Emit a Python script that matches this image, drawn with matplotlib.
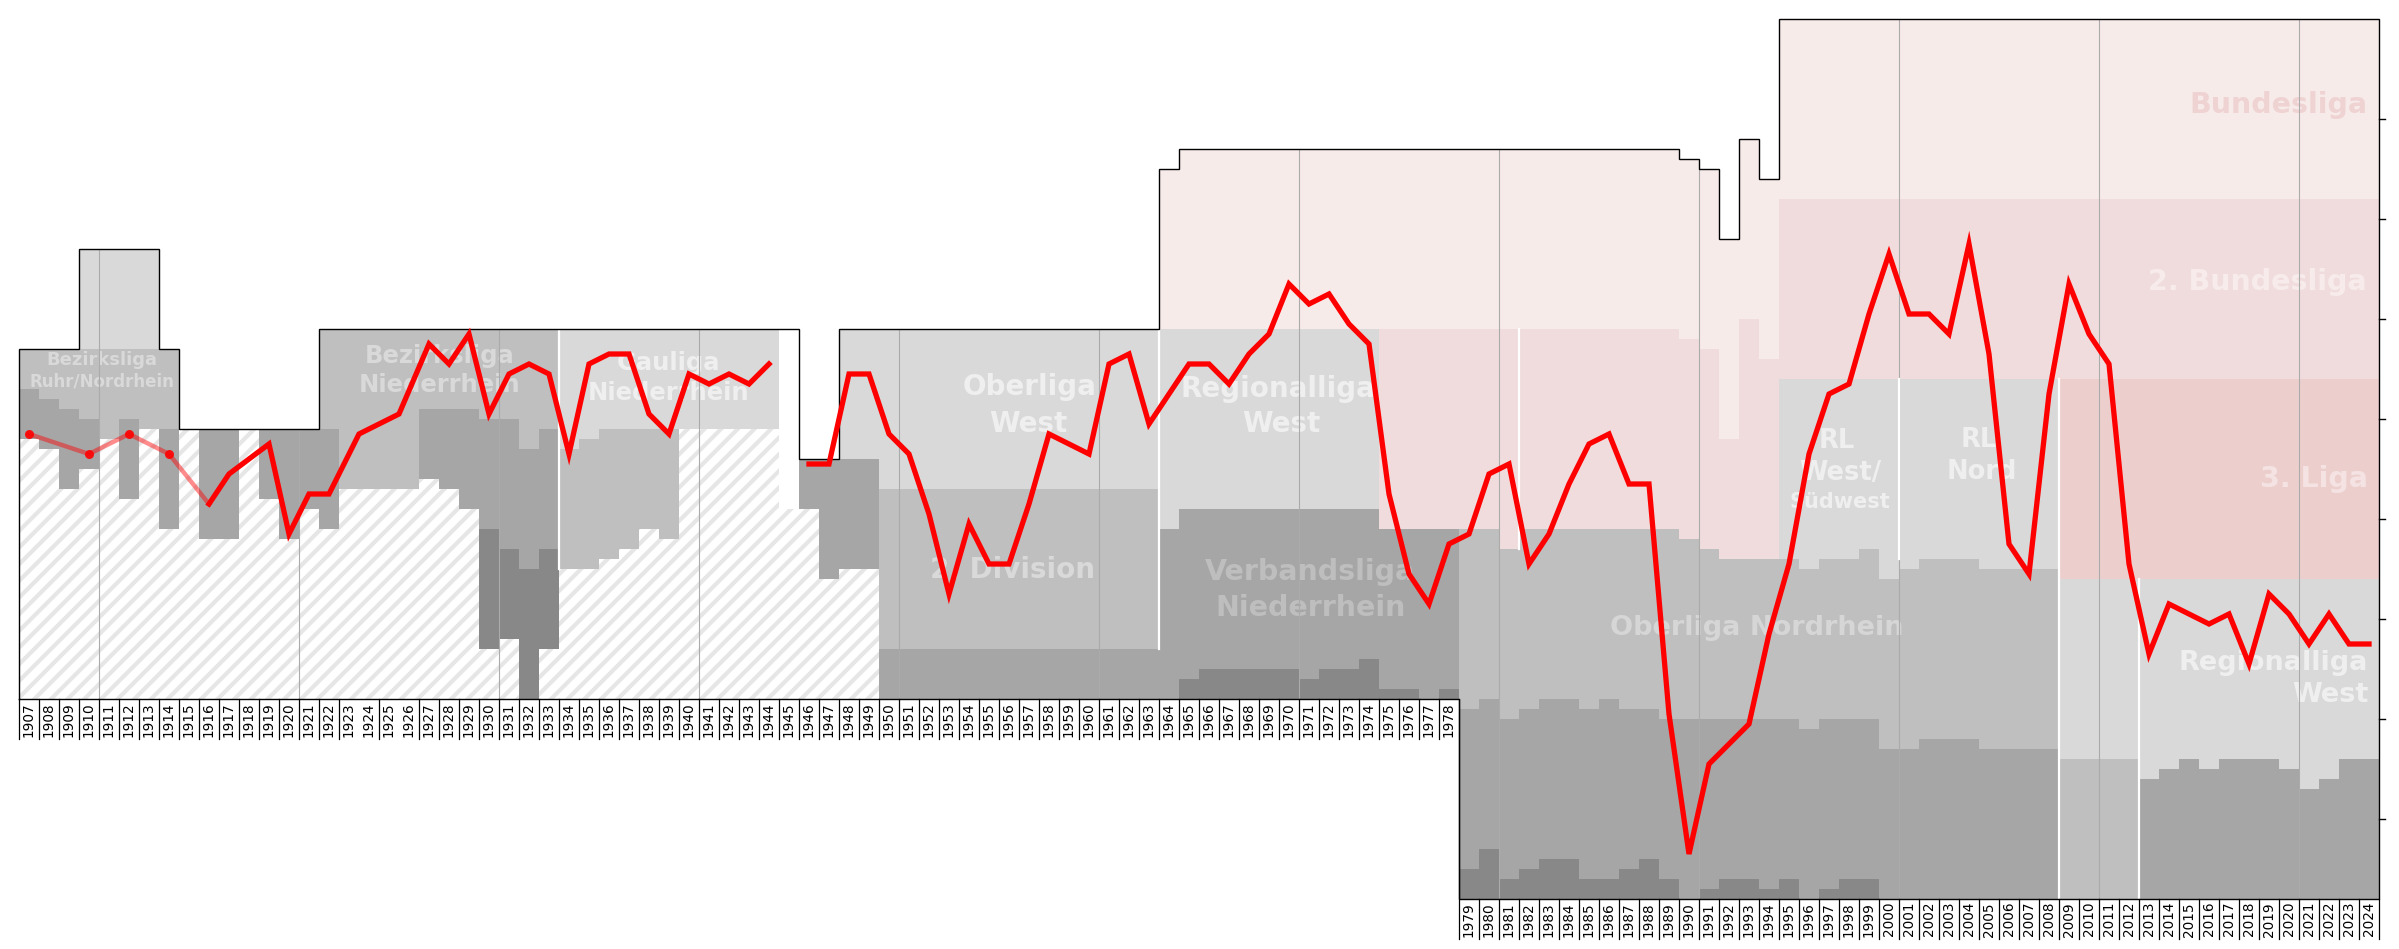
import matplotlib
matplotlib.use('Agg')
import matplotlib.pyplot as plt

plt.rcParams['hatch.linewidth'] = 3.0

# seasons, labelled by the year they ended
years = list(range(1907, 2025))
no_tick_after = [1923, 1925]   # 1922/24 and 1924/26 were two-year seasons

# frame of the pyramid: (first year, last year, rank)
frame_top = [(1907, 1909, 33), (1910, 1913, 23), (1914, 1914, 33), (1915, 1921, 41),
             (1922, 1945, 31), (1946, 1947, 44), (1948, 1963, 31), (1964, 1964, 15),
             (1965, 1989, 13), (1990, 1990, 14), (1991, 1991, 15), (1992, 1992, 22),
             (1993, 1993, 12), (1994, 1994, 16), (1995, 2024, 0)]
frame_bottom = [(1907, 1978, 68), (1979, 2024, 88)]

# league bands: (first year, last year, top rank, bottom rank)
bundesliga = [(1964, 1964, 15, 31), (1965, 1989, 13, 31), (1990, 1990, 14, 32),
              (1991, 1991, 15, 33), (1992, 1992, 22, 42), (1993, 1993, 12, 30),
              (1994, 1994, 16, 34), (1995, 2024, 0, 18)]
zweite_liga = [(1975, 1980, 31, 51), (1981, 1981, 31, 53), (1982, 1989, 31, 51),
               (1990, 1990, 32, 52), (1991, 1991, 33, 53), (1992, 1992, 42, 54),
               (1993, 1993, 30, 54), (1994, 1994, 34, 54), (1995, 2024, 18, 36)]
dritte_liga = [(2009, 2024, 36, 56)]
grey1 = [(1910, 1913, 23, 33), (1934, 1934, 31, 43), (1935, 1935, 31, 42),
         (1936, 1944, 31, 41), (1948, 1949, 31, 44), (1950, 1963, 31, 47),
         (1964, 1964, 31, 51), (1965, 1974, 31, 49), (1995, 1995, 36, 54),
         (1996, 1996, 36, 55), (1997, 1998, 36, 54), (1999, 1999, 36, 53),
         (2000, 2000, 36, 56), (2001, 2001, 36, 55), (2002, 2004, 36, 54),
         (2005, 2008, 36, 55), (2009, 2012, 56, 74), (2013, 2013, 56, 76),
         (2014, 2014, 56, 75), (2015, 2015, 56, 74), (2016, 2016, 56, 75),
         (2017, 2019, 56, 74), (2020, 2020, 56, 75), (2021, 2021, 56, 77),
         (2022, 2022, 56, 76), (2023, 2024, 56, 74)]
grey2 = [(1907, 1907, 33, 37), (1908, 1908, 33, 38), (1909, 1909, 33, 39),
         (1910, 1910, 33, 40), (1911, 1911, 33, 42), (1912, 1912, 33, 40),
         (1913, 1914, 33, 41), (1922, 1922, 31, 41), (1923, 1926, 31, 47),
         (1927, 1929, 31, 39), (1930, 1931, 31, 40), (1932, 1932, 31, 43),
         (1933, 1933, 31, 41), (1934, 1934, 43, 55), (1935, 1935, 42, 55),
         (1936, 1936, 41, 54), (1937, 1937, 41, 53), (1938, 1938, 41, 51),
         (1939, 1939, 41, 52), (1950, 1963, 47, 63), (1979, 1979, 51, 69),
         (1980, 1980, 51, 68), (1981, 1981, 53, 70), (1982, 1982, 51, 69),
         (1983, 1984, 51, 68), (1985, 1985, 51, 69), (1986, 1986, 51, 68),
         (1987, 1988, 51, 69), (1989, 1989, 51, 70), (1990, 1990, 52, 70),
         (1991, 1991, 53, 70), (1992, 1995, 54, 70), (1996, 1996, 55, 71),
         (1997, 1998, 54, 70), (1999, 1999, 53, 70), (2000, 2000, 56, 73),
         (2001, 2001, 55, 73), (2002, 2004, 54, 72), (2005, 2008, 55, 73),
         (2009, 2012, 74, 88)]
grey3 = [(1907, 1907, 37, 42), (1908, 1908, 38, 43), (1909, 1909, 39, 47),
         (1910, 1910, 40, 45), (1912, 1912, 40, 48), (1914, 1914, 41, 51),
         (1916, 1917, 41, 52), (1919, 1919, 41, 48), (1920, 1920, 41, 52),
         (1921, 1921, 41, 49), (1922, 1922, 41, 51), (1927, 1927, 39, 46),
         (1928, 1928, 39, 47), (1929, 1929, 39, 49), (1930, 1930, 40, 51),
         (1931, 1931, 40, 53), (1932, 1932, 43, 55), (1933, 1933, 41, 53),
         (1946, 1946, 44, 49), (1947, 1947, 44, 56), (1948, 1949, 44, 55),
         (1950, 1963, 63, 68), (1964, 1964, 51, 68), (1965, 1965, 49, 66),
         (1966, 1970, 49, 65), (1971, 1971, 49, 66), (1972, 1973, 49, 65),
         (1974, 1974, 49, 64), (1975, 1976, 51, 67), (1977, 1977, 51, 68),
         (1978, 1978, 51, 67), (1979, 1979, 69, 85), (1980, 1980, 68, 83),
         (1981, 1981, 70, 86), (1982, 1982, 69, 85), (1983, 1984, 68, 84),
         (1985, 1985, 69, 86), (1986, 1986, 68, 86), (1987, 1987, 69, 85),
         (1988, 1988, 69, 84), (1989, 1989, 70, 86), (1990, 1990, 70, 88),
         (1991, 1991, 70, 87), (1992, 1993, 70, 86), (1994, 1994, 70, 87),
         (1995, 1995, 70, 86), (1996, 1996, 71, 88), (1997, 1997, 70, 87),
         (1998, 1999, 70, 86), (2000, 2001, 73, 88), (2002, 2004, 72, 88),
         (2005, 2008, 73, 88), (2013, 2013, 76, 88), (2014, 2014, 75, 88),
         (2015, 2015, 74, 88), (2016, 2016, 75, 88), (2017, 2019, 74, 88),
         (2020, 2020, 75, 88), (2021, 2021, 77, 88), (2022, 2022, 76, 88),
         (2023, 2024, 74, 88)]
grey4 = [(1930, 1930, 51, 63), (1931, 1931, 53, 62), (1932, 1932, 55, 68),
         (1933, 1933, 53, 63), (1965, 1965, 66, 68), (1966, 1970, 65, 68),
         (1971, 1971, 66, 68), (1972, 1973, 65, 68), (1974, 1974, 64, 68),
         (1975, 1976, 67, 68), (1978, 1978, 67, 68), (1979, 1979, 85, 88),
         (1980, 1980, 83, 88), (1981, 1981, 86, 88), (1982, 1982, 85, 88),
         (1983, 1984, 84, 88), (1985, 1986, 86, 88), (1987, 1987, 85, 88),
         (1988, 1988, 84, 88), (1989, 1989, 86, 88), (1991, 1991, 87, 88),
         (1992, 1993, 86, 88), (1994, 1994, 87, 88), (1995, 1995, 86, 88),
         (1997, 1997, 87, 88), (1998, 1999, 86, 88)]
blank = [(1945, 1945, 31, 49)]

# league changes (white) and decade lines: (x, top, bottom)
league_breaks = [(1933.5, 31, 55), (1963.5, 31, 63), (1981.5, 31, 53),
                 (2000.5, 36, 54), (2008.5, 36, 88), (2012.5, 56, 88)]
decades = [1910.5, 1920.5, 1930.5, 1940.5, 1950.5, 1960.5, 1970.5, 1980.5,
           1990.5, 2000.5, 2010.5, 2020.5]

# final placing (overall rank)
early_x = [1907, 1910, 1912, 1914, 1916]
early_y = [41.5, 43.5, 41.5, 43.5, 48.5]
pre_war_x = [1916, 1917, 1919, 1920, 1921, 1922, 1923.5, 1925.5, 1927, 1928, 1929,
             1930, 1931, 1932, 1933, 1934, 1935, 1936, 1937, 1938, 1939, 1940,
             1941, 1942, 1943, 1944]
pre_war_y = [48.5, 45.5, 42.5, 51.5, 47.5, 47.5, 41.5, 39.5, 32.5, 34.5, 31.5,
             39.5, 35.5, 34.5, 35.5, 43.5, 34.5, 33.5, 33.5, 39.5, 41.5, 35.5,
             36.5, 35.5, 36.5, 34.5]
post_war_x = list(range(1946, 2025))
post_war_y = [44.5, 44.5, 35.5, 35.5, 41.5, 43.5, 49.5, 57.5, 50.5, 54.5,
              54.5, 48.5, 41.5, 42.5, 43.5, 34.5, 33.5, 40.5, 37.5, 34.5,
              34.5, 36.5, 33.5, 31.5, 26.5, 28.5, 27.5, 30.5, 32.5, 47.5,
              55.5, 58.5, 52.5, 51.5, 45.5, 44.5, 54.5, 51.5, 46.5, 42.5,
              41.5, 46.5, 46.5, 69.5, 83.5, 74.5, 72.5, 70.5, 61.5, 54.5,
              43.5, 37.5, 36.5, 29.5, 23.5, 29.5, 29.5, 31.5, 22.5, 33.5,
              52.5, 55.5, 37.5, 26.5, 31.5, 34.5, 54.5, 63.5, 58.5, 59.5,
              60.5, 59.5, 64.5, 57.5, 59.5, 62.5, 59.5, 62.5, 62.5]

# league names: (x, y, text, size, colour, alignment)
names = [(1910.65, 34.6, 'Bezirksliga', 13, '#d9d9d9', 'center'),
         (1910.65, 36.75, 'Ruhr/Nordrhein', 12, '#d9d9d9', 'center'),
         (1927.55, 34.4, 'Bezirksliga', 17.5, '#d9d9d9', 'center'),
         (1927.55, 37.3, 'Niederrhein', 17.5, '#d9d9d9', 'center'),
         (1939.0, 35.1, 'Gauliga', 17.5, '#efefef', 'center'),
         (1939.0, 38.05, 'Niederrhein', 17.5, '#efefef', 'center'),
         (1957.05, 37.6, 'Oberliga', 20, '#efefef', 'center'),
         (1956.95, 41.3, 'West', 20, '#efefef', 'center'),
         (1956.15, 55.9, '2. Division', 20, '#d9d9d9', 'center'),
         (1969.45, 37.8, 'Regionalliga', 20, '#efefef', 'center'),
         (1969.6, 41.3, 'West', 20, '#efefef', 'center'),
         (1971.05, 56.1, 'Verbandsliga', 20.5, '#bebebe', 'center'),
         (1971.1, 59.7, 'Niederrhein', 20.5, '#bebebe', 'center'),
         (1993.4, 61.6, 'Oberliga Nordrhein', 19.5, '#d6d6d6', 'center'),
         (1997.4, 42.9, 'RL', 18.5, '#efefef', 'center'),
         (1997.55, 46.1, 'West/', 18.5, '#efefef', 'center'),
         (1997.55, 48.9, 'Südwest', 15, '#efefef', 'center'),
         (2004.5, 42.8, 'RL', 18.5, '#efefef', 'center'),
         (2004.65, 46.0, 'Nord', 18.5, '#efefef', 'center'),
         (2023.9, 9.4, 'Bundesliga', 20.5, '#efd3d2', 'right'),
         (2023.9, 27.1, '2. Bundesliga', 20.5, '#f7eceb', 'right'),
         (2023.95, 46.8, '3. Liga', 20.5, '#f4e3e2', 'right'),
         (2023.95, 65.1, 'Regionalliga', 19.5, '#efefef', 'right'),
         (2024.0, 68.3, 'West', 19.5, '#efefef', 'right')]


def expand(runs):
    d = {}
    for a, b, v in runs:
        for y in range(a, b + 1):
            d[y] = v
    return d


top = expand(frame_top)
bottom = expand(frame_bottom)

fig = plt.figure(figsize=(23.99, 9.49), dpi=100)
ax = fig.add_axes([0, 0, 1, 1])
ax.set_xlim(1905.55, 2025.5)
ax.set_ylim(93.0, -1.9)
ax.axis('off')

bands = [(bundesliga, '#f7ebea'), (zweite_liga, '#f0dcdc'), (dritte_liga, '#eccfcd'),
         (grey1, '#d9d9d9'), (grey2, '#bfbfbf'), (grey3, '#a6a6a6'),
         (grey4, '#888888'), (blank, 'white')]

# hatched "no data" area below the known leagues
for y in range(1907, 1950):
    lows = [bot for runs, c in bands for a, b, t, bot in runs if a <= y <= b]
    h_top = max(lows) if lows else top[y]
    if h_top < bottom[y]:
        ax.bar(y - 0.5, bottom[y] - h_top, width=1, bottom=h_top, align='edge',
               facecolor='white', edgecolor='#e6e6e6', hatch='//', linewidth=0, zorder=1)

for runs, c in bands:
    for a, b, t, bot in runs:
        ax.bar(a - 0.5, bot - t, width=b - a + 1, bottom=t, align='edge',
               color=c, linewidth=0, zorder=2)

for x, y, s, size, c, ha in names:
    ax.text(x, y, s, fontsize=size, color=c, ha=ha, va='baseline',
            fontweight='bold', family='DejaVu Sans', zorder=3)

# decade lines
for x in decades:
    left, right = int(x - 0.5), int(x + 0.5)
    ax.plot([x, x], [max(top[left], top[right]), bottom[right]],
            color='#ababab', lw=0.8, zorder=4)

for x, t, bot in league_breaks:
    ax.plot([x, x], [t, bot], color='white', lw=1.6, zorder=5)

# frame
fx = [1906.5, 1906.5]
fy = [bottom[1907], top[1907]]
for y in years:
    fx += [y - 0.5, y + 0.5]
    fy += [top[y], top[y]]
fx.append(2024.5)
fy.append(bottom[2024])
for y in reversed(years):
    fx += [y + 0.5, y - 0.5]
    fy += [bottom[y], bottom[y]]
ax.plot(fx, fy, color='black', lw=1.0, zorder=6, solid_joinstyle='miter')

# season cells under the frame
for k in range(1906, 2025):
    if k in no_tick_after:
        continue
    b = [bottom[j] for j in (k, k + 1) if j in bottom]
    ax.plot([k + 0.5, k + 0.5], [min(b), max(b) + 4], color='black', lw=0.9,
            zorder=6, clip_on=False)
for y in years:
    ax.text(y, bottom[y] + 0.3, str(y), rotation=90, ha='center', va='top',
            fontsize=9.8, family='DejaVu Sans', color='black')

# ticks on the right
for r in range(10, 90, 10):
    ax.plot([2024.5, 2024.8], [r, r], color='black', lw=1.0, zorder=6, clip_on=False)

# placings
ax.plot(early_x, early_y, color='red', alpha=0.45, lw=3.2, zorder=7,
        solid_joinstyle='round')
ax.plot(early_x[:-1], early_y[:-1], 'o', color='red', ms=6.5, mew=0, alpha=0.9, zorder=8)
for xs, ys in [(pre_war_x, pre_war_y), (post_war_x, post_war_y)]:
    ax.plot(xs, ys, color='#ff0000', lw=3.8, zorder=8,
            solid_joinstyle='miter', solid_capstyle='projecting')

fig.savefig('out.png', dpi=100)
